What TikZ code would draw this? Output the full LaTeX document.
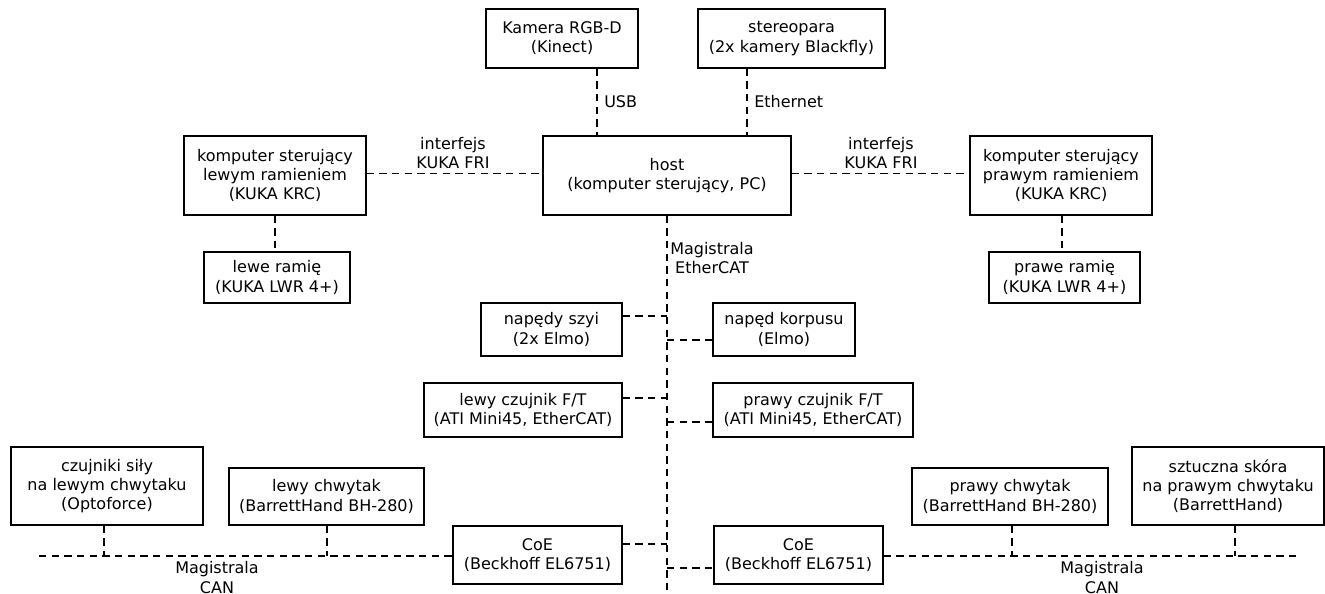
\documentclass[tikz,border=0pt]{standalone}
\usepackage{fontspec}
\setmainfont{DejaVu Sans}
\begin{document}
\begin{tikzpicture}[x=0.75pt,y=-0.75pt,
  box/.style={draw, line width=0.9pt, rectangle, align=center, inner sep=0pt, font=\fontsize{12}{14.4}\selectfont},
  lbl/.style={align=center, inner sep=0pt, font=\fontsize{12}{14.4}\selectfont},
  link/.style={line width=1pt, dash pattern=on 5.5pt off 4pt}]
\useasboundingbox (0,0) rectangle (1325,593);
% boxes
\node[box, minimum width=152*0.75pt, minimum height=59*0.75pt] (cam) at (562,38.5) {Kamera RGB-D\\(Kinect)};
\node[box, minimum width=187*0.75pt, minimum height=59*0.75pt] (stereo) at (791.5,38.5) {stereopara\\(2x kamery Blackfly)};
\node[box, minimum width=248*0.75pt, minimum height=79*0.75pt] (host) at (667,175.5) {host\\(komputer sterujący, PC)};
\node[box, minimum width=182*0.75pt, minimum height=79*0.75pt] (krcL) at (275,175.5) {komputer sterujący\\lewym ramieniem\\(KUKA KRC)};
\node[box, minimum width=146*0.75pt, minimum height=51*0.75pt] (armL) at (277,277.5) {lewe ramię\\(KUKA LWR 4+)};
\node[box, minimum width=182*0.75pt, minimum height=79*0.75pt] (krcR) at (1061,175.5) {komputer sterujący\\prawym ramieniem\\(KUKA KRC)};
\node[box, minimum width=151*0.75pt, minimum height=51*0.75pt] (armR) at (1064.5,277.5) {prawe ramię\\(KUKA LWR 4+)};
\node[box, minimum width=141*0.75pt, minimum height=53*0.75pt] (neck) at (551.5,329.5) {napędy szyi\\(2x Elmo)};
\node[box, minimum width=142*0.75pt, minimum height=53*0.75pt] (torso) at (784,329.5) {napęd korpusu\\(Elmo)};
\node[box, minimum width=198*0.75pt, minimum height=54*0.75pt] (ftL) at (523,410) {lewy czujnik F/T\\(ATI Mini45, EtherCAT)};
\node[box, minimum width=200*0.75pt, minimum height=54*0.75pt] (ftR) at (813,410) {prawy czujnik F/T\\(ATI Mini45, EtherCAT)};
\node[box, minimum width=192*0.75pt, minimum height=78*0.75pt] (forceL) at (107,486) {czujniki siły\\na lewym chwytaku\\(Optoforce)};
\node[box, minimum width=195*0.75pt, minimum height=57*0.75pt] (gripL) at (326.5,496.5) {lewy chwytak\\(BarrettHand BH-280)};
\node[box, minimum width=169*0.75pt, minimum height=58*0.75pt] (coeL) at (537.5,555) {CoE\\(Beckhoff EL6751)};
\node[box, minimum width=169*0.75pt, minimum height=58*0.75pt] (coeR) at (798.5,555) {CoE\\(Beckhoff EL6751)};
\node[box, minimum width=196*0.75pt, minimum height=57*0.75pt] (gripR) at (1010,496.5) {prawy chwytak\\(BarrettHand BH-280)};
\node[box, minimum width=192*0.75pt, minimum height=78*0.75pt] (skin) at (1228,486) {sztuczna skóra\\na prawym chwytaku\\(BarrettHand)};
% helper coordinates
\coordinate (usbx) at (597,0);
\coordinate (ethx) at (747,0);
\coordinate (friy) at (0,173.3);
\coordinate (busx) at (667,0);
\coordinate (busend) at (667,593);
\coordinate (canyL) at (0,556);
\coordinate (canLend) at (39,556);
\coordinate (canRend) at (1297,556);
\coordinate (fx) at (104,0);
\coordinate (glx) at (327,0);
\coordinate (grx) at (1012,0);
\coordinate (skx) at (1235,0);
\coordinate (armLx) at (275,0);
\coordinate (armRx) at (1062,0);
% connectors
\draw[link] (cam.south -| usbx) -- (host.north -| usbx);
\draw[link] (stereo.south -| ethx) -- (host.north -| ethx);
\draw[link] (krcL.east |- friy) -- (host.west |- friy);
\draw[link] (host.east |- friy) -- (krcR.west |- friy);
\draw[link] (krcL.south -| armLx) -- (armL.north -| armLx);
\draw[link] (krcR.south -| armRx) -- (armR.north -| armRx);
\draw[link] (host.south -| busx) -- (busend);
\draw[link] (neck.east |- 0,316) -- (busx |- 0,316);
\draw[link] (busx |- 0,340) -- (torso.west |- 0,340);
\draw[link] (ftL.east |- 0,398) -- (busx |- 0,398);
\draw[link] (busx |- 0,422) -- (ftR.west |- 0,422);
\draw[link] (coeL.east |- 0,544) -- (busx |- 0,544);
\draw[link] (busx |- 0,568) -- (coeR.west |- 0,568);
\draw[link] (canLend) -- (coeL.west |- canyL);
\draw[link] (coeR.east |- canyL) -- (canRend);
\draw[link] (forceL.south -| fx) -- (fx |- canyL);
\draw[link] (gripL.south -| glx) -- (glx |- canyL);
\draw[link] (gripR.south -| grx) -- (grx |- canyL);
\draw[link] (skin.south -| skx) -- (skx |- canyL);
% labels
\node[lbl, anchor=west] (lusb) at (604,101.5) {USB};
\node[lbl, anchor=west] (leth) at (754,101.5) {Ethernet};
\node[lbl] (lfriL) at (453,153) {interfejs\\KUKA FRI};
\node[lbl] (lfriR) at (881,153) {interfejs\\KUKA FRI};
\node[lbl, anchor=west] (lecat) at (670,258) {Magistrala\\EtherCAT};
\node[lbl] (lcanL) at (217,577.5) {Magistrala\\CAN};
\node[lbl] (lcanR) at (1102,577.5) {Magistrala\\CAN};
\end{tikzpicture}
\end{document}
